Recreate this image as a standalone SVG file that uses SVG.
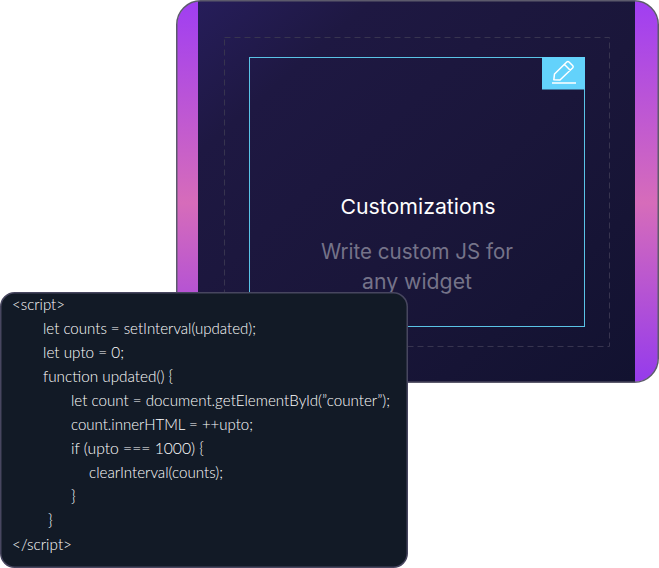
<svg xmlns="http://www.w3.org/2000/svg" width="659" height="568" viewBox="0 0 659 568">
<defs>
<linearGradient id="side" x1="0" y1="0" x2="0" y2="1"><stop offset="0" stop-color="#a03ef2"/><stop offset="0.53" stop-color="#d66cba"/><stop offset="1" stop-color="#953bec"/></linearGradient>
<linearGradient id="bg" x1="0" y1="0" x2="1" y2="1"><stop offset="0" stop-color="#261d5a"/><stop offset="0.2" stop-color="#1e1842"/><stop offset="0.55" stop-color="#1a163a"/><stop offset="1" stop-color="#121230"/></linearGradient>
</defs>
<style>
.code{font-family:"Lato","Liberation Sans",sans-serif;font-size:16px;fill:#ffffff;font-weight:300}
.head{font-family:"Inter","Liberation Sans",sans-serif;text-anchor:middle}
</style>
<g id="card">
<rect x="177" y="1" width="481" height="381" rx="24" fill="url(#side)"/>
<rect x="198" y="1" width="437" height="381" fill="url(#bg)"/>
<rect x="176.750" y="0.750" width="481.500" height="381.500" rx="24" fill="none" stroke="#5c5a6c" stroke-width="1.500"/>
<rect x="224.500" y="37.500" width="385" height="309" fill="none" stroke="#37344f" stroke-width="1" stroke-dasharray="6 4"/>
<rect x="249.500" y="57.500" width="335" height="269" fill="none" stroke="#5ac3e6" stroke-width="1"/>
<text class="head" x="418" y="214" font-size="20.500" fill="#ffffff" textLength="155" lengthAdjust="spacingAndGlyphs">Customizations</text>
<text class="head" x="417" y="259" font-size="21" fill="#757389" textLength="192" lengthAdjust="spacingAndGlyphs">Write custom JS for</text>
<text class="head" x="417" y="289" font-size="21" fill="#757389" textLength="110" lengthAdjust="spacingAndGlyphs">any widget</text>
</g>
<g id="edit-badge">
<rect x="542" y="57" width="43" height="32.500" fill="#63d2fb"/>
<path d="M553.800 79.800 L554.500 74 L567 61.800 Q568 61 569 62 L572.800 65.800 Q573.600 66.800 572.800 67.800 L560 80 Z M564.500 64.500 L570.500 70.500" fill="none" stroke="#ffffff" stroke-width="1.500" stroke-linejoin="round"/>
<path d="M552 83 H576" fill="none" stroke="#ffffff" stroke-width="1.500"/>
</g>
<g id="code-panel">
<rect x="0.750" y="292.750" width="406.500" height="274.500" rx="14" fill="#121a26" stroke="#47465f" stroke-width="1.500"/>
<text class="code" x="12" y="310" textLength="53" lengthAdjust="spacingAndGlyphs">&lt;script&gt;</text>
<text class="code" x="43" y="334" textLength="213" lengthAdjust="spacingAndGlyphs">let counts = setInterval(updated);</text>
<text class="code" x="43" y="358" textLength="81" lengthAdjust="spacingAndGlyphs">let upto = 0;</text>
<text class="code" x="43" y="382" textLength="130" lengthAdjust="spacingAndGlyphs">function updated() {</text>
<text class="code" x="71" y="406" textLength="319" lengthAdjust="spacingAndGlyphs">let count = document.getElementById(”counter”);</text>
<text class="code" x="71" y="430" textLength="182" lengthAdjust="spacingAndGlyphs">count.innerHTML = ++upto;</text>
<text class="code" x="71" y="454" textLength="133" lengthAdjust="spacingAndGlyphs">if (upto === 1000) {</text>
<text class="code" x="89" y="478" textLength="134" lengthAdjust="spacingAndGlyphs">clearInterval(counts);</text>
<text class="code" x="71" y="502">}</text>
<text class="code" x="48" y="526">}</text>
<text class="code" x="12" y="550" textLength="60" lengthAdjust="spacingAndGlyphs">&lt;/script&gt;</text>
</g>
</svg>
